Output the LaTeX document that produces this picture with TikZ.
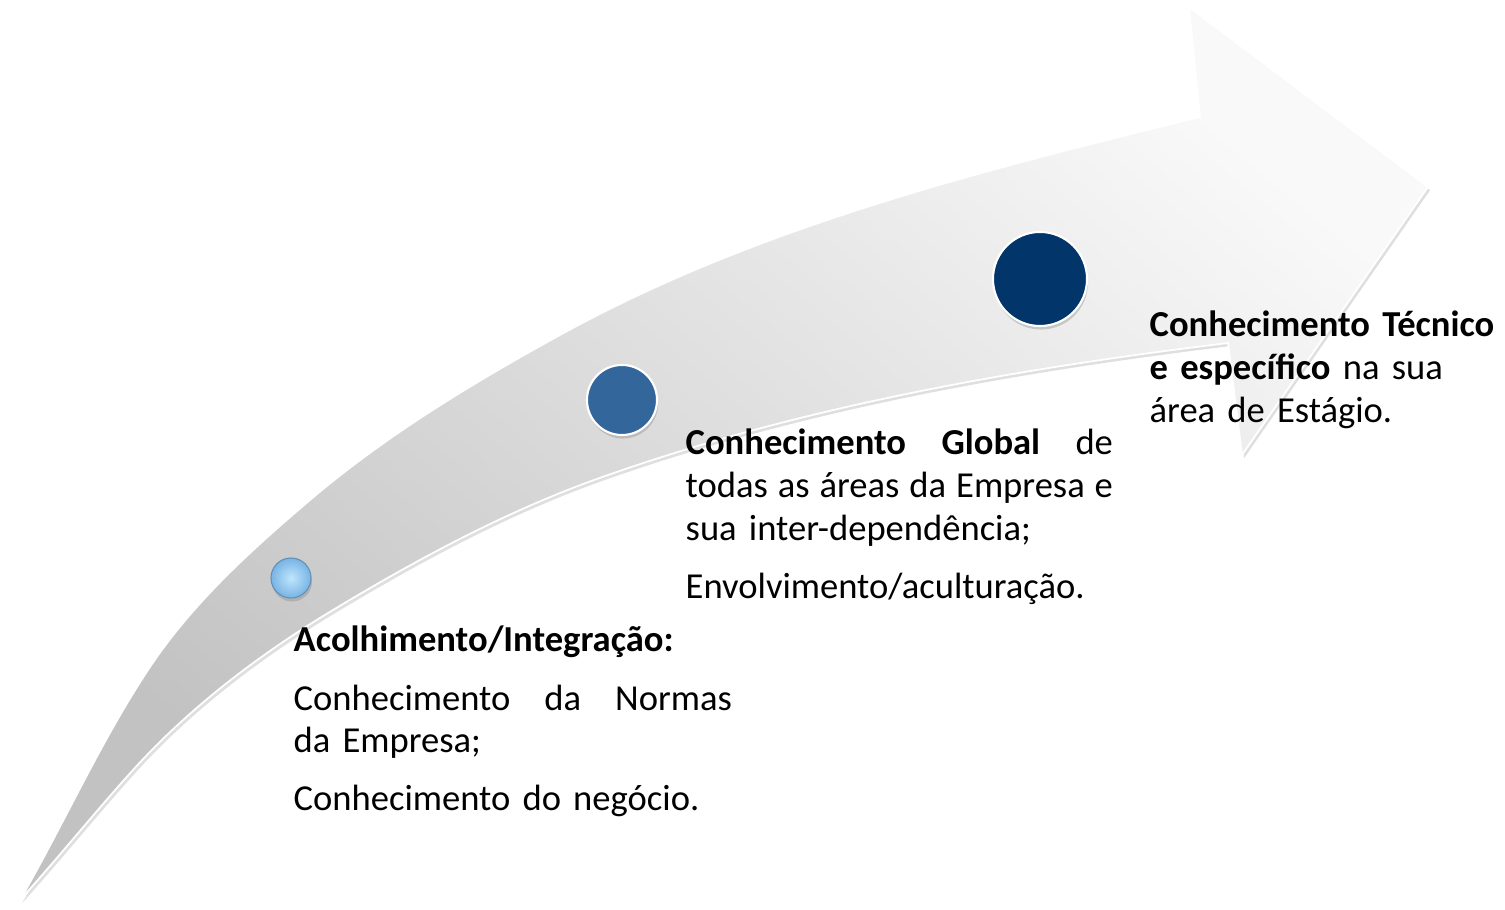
\documentclass[tikz,border=0pt]{standalone}
\usepackage{fontspec}
\setmainfont{Carlito}
\usetikzlibrary{shadows}
\definecolor{navyc}{HTML}{02366A}
\definecolor{midc}{HTML}{33669A}
\definecolor{lightin}{HTML}{BFE5FD}
\definecolor{lightout}{HTML}{78B4E4}
\newcommand{\fullline}[2]{\leavevmode\hbox to #1{#2}}
\tikzset{
  arrowbody/.style={shading=axis, top color=gray!5, bottom color=gray!48, shading angle=-40,
    draw=white, line width=0.5pt,
    drop shadow={opacity=0.25, shadow xshift=0.6pt, shadow yshift=-0.9pt}},
  dotbase/.style={circle, inner sep=0pt, draw=white, line width=0.6pt,
    drop shadow={opacity=0.35, shadow xshift=0.3pt, shadow yshift=-1pt}},
  txt/.style={inner sep=0pt, anchor=base west, align=left,
    font=\fontsize{10.4pt}{12.2pt}\selectfont}
}
\begin{document}
\begin{tikzpicture}[x=0.01cm, y=-0.01cm]
\useasboundingbox (0,0) rectangle (1505,910);
% arrow outline points
\coordinate (tail) at (20,900);
\coordinate (u1) at (150,667);
\coordinate (u2) at (310,500);
\coordinate (u3) at (560,335);
\coordinate (ush) at (1200,117);
\coordinate (ubarb) at (1189,7);
\coordinate (tip) at (1428,187);
\coordinate (lbarb) at (1242,455);
\coordinate (lsh) at (1228,343);
\coordinate (l1) at (594,480);
\coordinate (l2) at (333,610);
\coordinate (l3) at (133,770);
\path[arrowbody] (tail)
  .. controls (64.5,823) and (100.6,741) .. (u1)
  .. controls (192.7,603) and (251.3,549.9) .. (u2)
  .. controls (386.2,435.2) and (472.4,383.2) .. (u3)
  .. controls (757,226.5) and (981.5,170.6) .. (ush)
  -- (ubarb) -- (tip) -- (lbarb) -- (lsh)
  .. controls (1014,369) and (797,407) .. (l1)
  .. controls (503,513) and (416,560) .. (l2)
  .. controls (260,654) and (190,707) .. (l3)
  .. controls (95,812) and (58,858) .. (tail) -- cycle;
% dots
\node[dotbase, minimum size=0.40cm, draw=lightout!80!black, line width=0.3pt, shading=radial, inner color=lightin, outer color=lightout] (d1) at (291,578) {};
\node[dotbase, minimum size=0.70cm, fill=midc] (d2) at (622,400) {};
\node[dotbase, minimum size=0.94cm, fill=navyc] (d3) at (1040,279) {};
% texts
\node[txt, text width=4.38cm] (t1) at (293,652) {\textbf{Acolhimento/Integração:}\\[4.3pt]
\fullline{4.38cm}{Conhecimento\hfill da\hfill Normas}\\
da Empresa;\\[4.3pt]
Conhecimento do negócio.};
\node[txt, text width=4.27cm] (t2) at (685,455) {\fullline{4.27cm}{\textbf{Conhecimento}\hfill\textbf{Global}\hfill de}\\
\fullline{4.27cm}{todas\hfill as\hfill áreas\hfill da\hfill Empresa\hfill e}\\
sua inter-dependência;\\[4.3pt]
Envolvimento/aculturação.};
\node[txt, text width=3.5cm] (t3) at (1149,337) {\textbf{Conhecimento Técnico}\\
\textbf{e específico} na sua\\
área de Estágio.};
\end{tikzpicture}
\end{document}
